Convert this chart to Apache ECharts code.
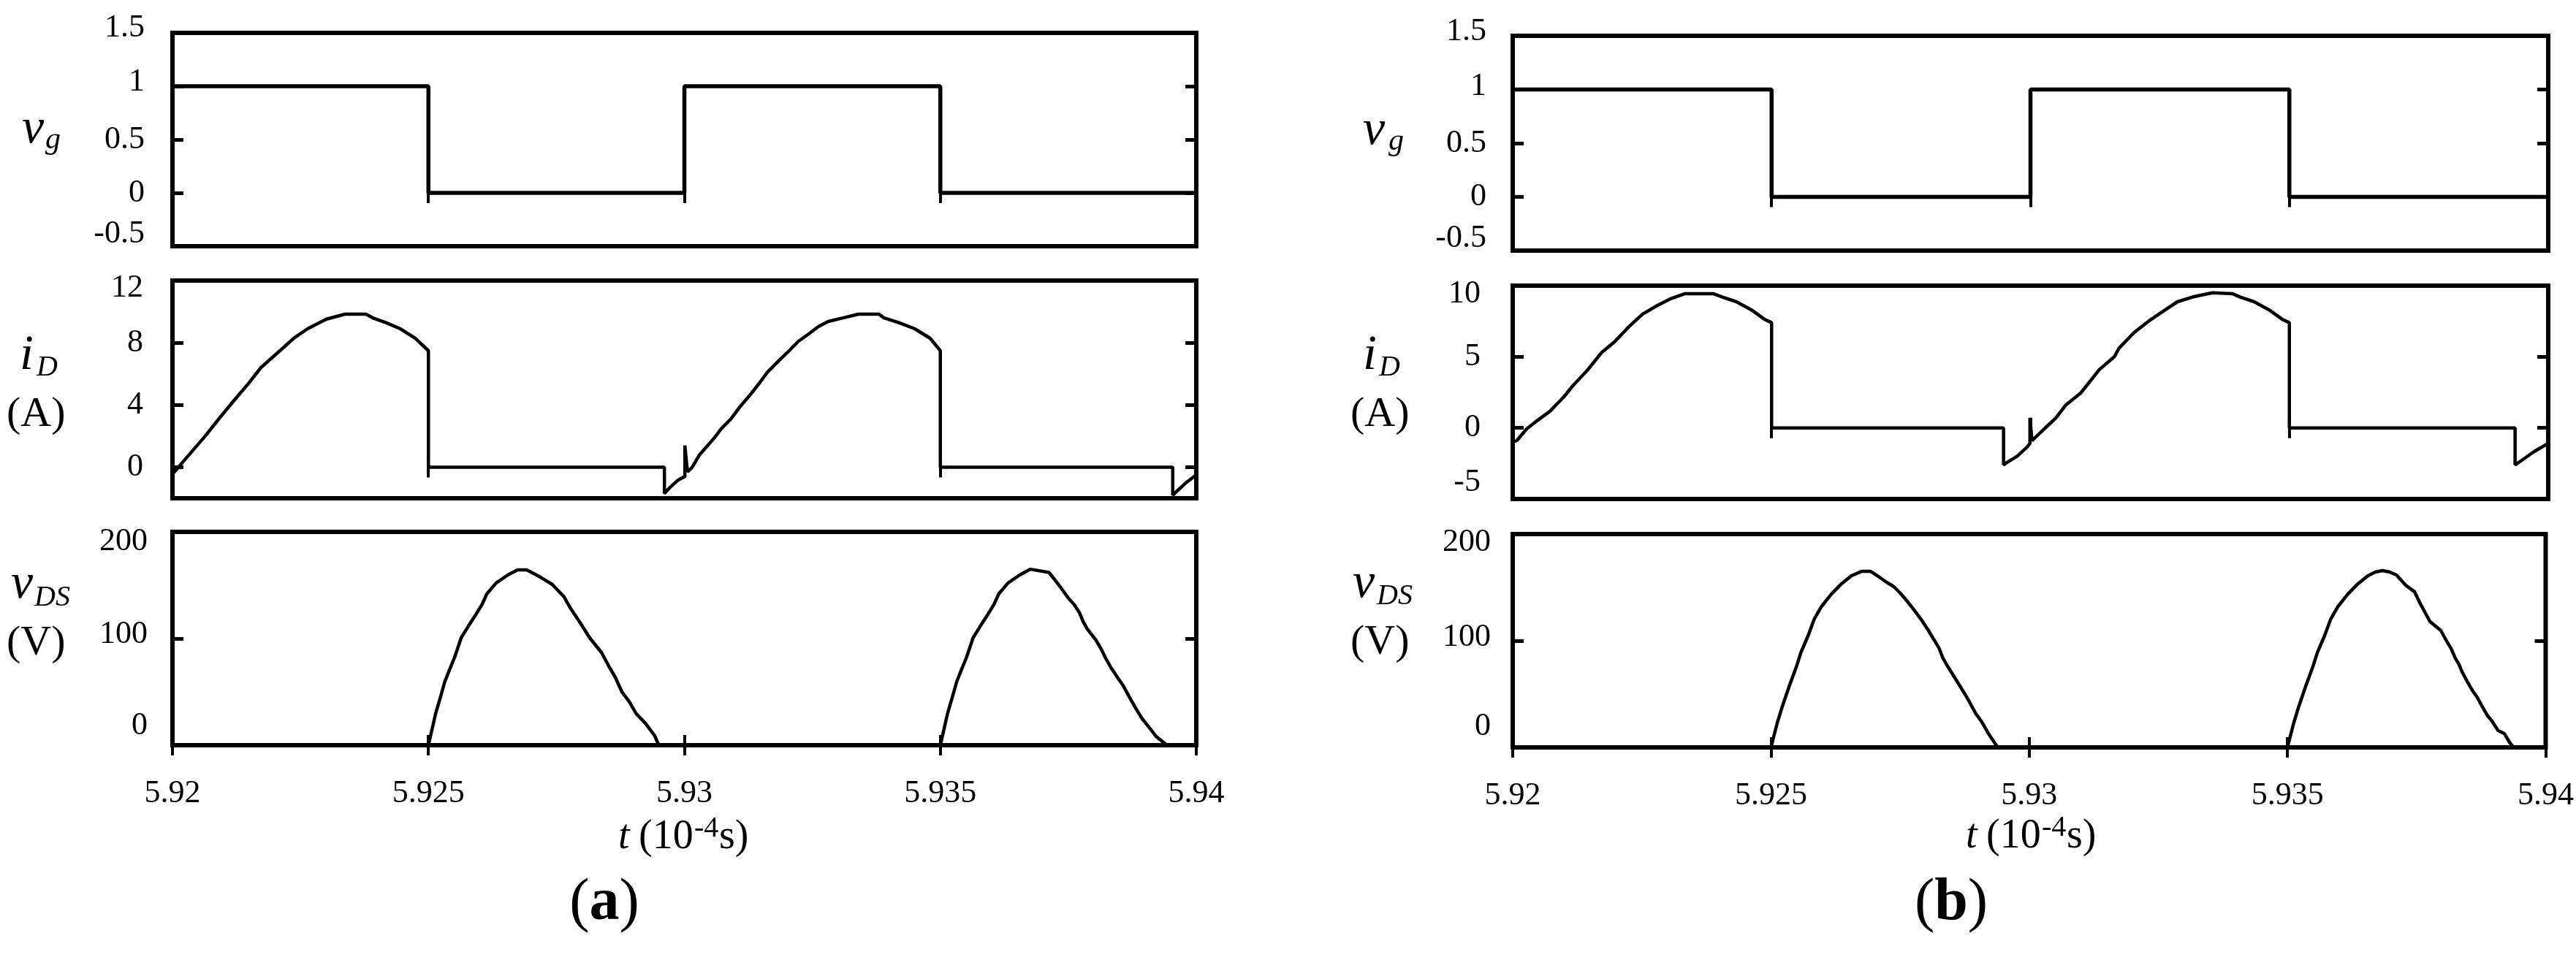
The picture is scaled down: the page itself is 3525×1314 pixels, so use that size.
<!DOCTYPE html>
<html>
<head>
<meta charset="utf-8">
<script src="https://cdn.jsdelivr.net/npm/echarts@6/dist/echarts.min.js"></script>
<style>
html, body { margin: 0; padding: 0; background: #fff; }
#main { width: 3525px; height: 1314px; }
</style>
</head>
<body>
<div id="main"></div>
<script>
// time axis, in 10^-4 s
var timeTicks = [5.92, 5.925, 5.93, 5.935, 5.94];
var timeTickLabels = ['5.92', '5.925', '5.93', '5.935', '5.94'];

var vgTicks = [-0.5, 0, 0.5, 1, 1.5];
var vgTickLabels = ['-0.5', '0', '0.5', '1', '1.5'];
var iDTicksA = [-2, 0, 4, 8, 12];
var iDTickLabelsA = ['-2', '0', '4', '8', '12'];
var iDTicksB = [-5, 0, 5, 10];
var iDTickLabelsB = ['-5', '0', '5', '10'];
var vDSTicks = [0, 100, 200];
var vDSTickLabels = ['0', '100', '200'];

// gate signal
var vgA = [[5.92, 1], [5.925, 1], [5.925, 0], [5.93, 0], [5.93, 1], [5.935, 1], [5.935, 0], [5.94, 0]];
var vgB = [[5.92, 1], [5.925, 1], [5.925, 0], [5.93, 0], [5.93, 1], [5.935, 1], [5.935, 0], [5.94, 0]];

// drain current (A)
var iDA = [
  [5.92, -0.45], [5.92027, 0.59], [5.92064, 2.0], [5.92091, 3.12], [5.92118, 4.2],
  [5.92146, 5.28], [5.92173, 6.41], [5.9221, 7.49], [5.92237, 8.29], [5.92264, 8.9],
  [5.923, 9.51], [5.92337, 9.84], [5.92378, 9.84], [5.92391, 9.6], [5.92418, 9.28],
  [5.92445, 8.9], [5.92474, 8.29], [5.925, 7.49], [5.925, 0], [5.92961, 0],
  [5.92961, -1.7], [5.92972, -1.3], [5.92988, -0.82], [5.93001, -0.6], [5.93001, 1.4],
  [5.93006, -0.3], [5.93015, -0.02], [5.93029, 0.77], [5.93058, 1.86], [5.93072, 2.47],
  [5.93091, 3.1], [5.93109, 3.9], [5.93129, 4.67], [5.93148, 5.47], [5.93162, 6.1],
  [5.93186, 6.9], [5.93205, 7.5], [5.93223, 8.1], [5.93243, 8.57], [5.93262, 9.04],
  [5.93281, 9.37], [5.9331, 9.6], [5.9334, 9.84], [5.9338, 9.84], [5.9339, 9.6],
  [5.9342, 9.28], [5.9345, 8.9], [5.9348, 8.29], [5.935, 7.49], [5.935, 0],
  [5.93954, 0], [5.93954, -1.8], [5.9398, -1.0], [5.94, -0.5]
];
var iDB = [
  [5.92, -1.0], [5.92008, -0.89], [5.92027, -0.07], [5.92045, 0.45], [5.92072, 1.17],
  [5.92099, 2.19], [5.92117, 3.0], [5.92144, 4.04], [5.92171, 5.27], [5.92198, 6.1],
  [5.92224, 7.1], [5.92251, 8.0], [5.92279, 8.6], [5.92306, 9.1], [5.92333, 9.44],
  [5.92387, 9.44], [5.92405, 9.2], [5.92432, 8.87], [5.92463, 8.25], [5.92486, 7.64],
  [5.925, 7.4], [5.925, 0], [5.92948, 0], [5.92948, -2.6], [5.92956, -2.4],
  [5.92974, -2.0], [5.92992, -1.4], [5.92999, -1.1], [5.92999, 0.7], [5.93003, -0.9],
  [5.9302, -0.3], [5.93049, 0.7], [5.93068, 1.6], [5.93097, 2.45], [5.93115, 3.27],
  [5.93133, 4.1], [5.93162, 5.0], [5.93171, 5.6], [5.932, 6.7], [5.93228, 7.5],
  [5.93256, 8.2], [5.93284, 8.87], [5.93313, 9.2], [5.93351, 9.5], [5.9339, 9.44],
  [5.93405, 9.2], [5.93432, 8.87], [5.93463, 8.25], [5.93486, 7.64], [5.935, 7.4],
  [5.935, 0], [5.93936, 0], [5.93936, -2.6], [5.93952, -2.2], [5.93973, -1.66],
  [5.9399, -1.3], [5.94, -1.1]
];

// drain-source voltage (V)
var vDSA = [
  [5.92, 0], [5.925, 0], [5.92514, 29.5], [5.92524, 45.9], [5.92532, 59.6],
  [5.92541, 70.5], [5.92551, 82.2], [5.92564, 100.7], [5.92578, 111.6], [5.92591, 121.2],
  [5.92605, 132.2], [5.92614, 141.8], [5.92632, 152], [5.92655, 159.6], [5.92674, 164.4],
  [5.92692, 164.4], [5.92719, 157.5], [5.92742, 150.7], [5.92765, 139], [5.92778, 128],
  [5.92797, 114.4], [5.92815, 100.7], [5.92838, 87], [5.92851, 75.3], [5.92865, 63.7],
  [5.92878, 50], [5.92892, 41], [5.92906, 29.5], [5.92924, 20.5], [5.92942, 8.9],
  [5.9295, 0], [5.935, 0], [5.93514, 29.5], [5.93524, 45.9], [5.93532, 59.6],
  [5.93541, 70.5], [5.93551, 82.2], [5.93564, 100.7], [5.93578, 111.6], [5.93591, 121.2],
  [5.93605, 132.2], [5.93614, 141.8], [5.93632, 152], [5.93655, 159.6], [5.93676, 165],
  [5.93712, 162], [5.93723, 155.5], [5.93737, 146.6], [5.9375, 138], [5.93762, 131.5],
  [5.93772, 124], [5.93779, 115.8], [5.93787, 109], [5.93804, 98.6], [5.93814, 90.4],
  [5.93823, 81.5], [5.93833, 73], [5.93844, 65], [5.93857, 56], [5.93866, 48],
  [5.9388, 36], [5.93894, 25], [5.93909, 16], [5.93922, 8], [5.93943, 0], [5.94, 0]
];
var vDSB = [
  [5.92, 0], [5.925, 0], [5.92512, 22.6], [5.92522, 38.4], [5.92535, 56.8],
  [5.92549, 75.3], [5.92558, 89], [5.92572, 104.8], [5.92584, 120.5], [5.92598, 132.2],
  [5.92617, 143.8], [5.92635, 152.7], [5.92656, 161], [5.92675, 165], [5.92693, 165],
  [5.9271, 159.6], [5.92724, 154.8], [5.92738, 150.7], [5.92752, 143.8], [5.92765, 136.3],
  [5.92776, 129.5], [5.9279, 120.5], [5.92805, 109.6], [5.92816, 100.7], [5.92826, 92.5],
  [5.92833, 83.6], [5.92843, 75.3], [5.92851, 69.2], [5.92865, 58.2], [5.92878, 48],
  [5.92886, 41.1], [5.92896, 32.2], [5.92908, 24], [5.92922, 12.3], [5.92939, 0],
  [5.935, 0], [5.93512, 22.6], [5.93522, 38.4], [5.93535, 56.8], [5.93549, 75.3],
  [5.93558, 89], [5.93572, 104.8], [5.93584, 120.5], [5.93598, 132.2], [5.93617, 143.8],
  [5.93635, 152.7], [5.93656, 161], [5.9367, 164.4], [5.93684, 165.8], [5.93698, 164.4],
  [5.93711, 161.6], [5.93729, 152], [5.93746, 146], [5.93757, 135], [5.93767, 126],
  [5.93776, 118], [5.93797, 109.6], [5.93807, 100.7], [5.93817, 92.5], [5.93825, 83.6],
  [5.93832, 78], [5.93839, 70], [5.93849, 61], [5.93859, 52.7], [5.93867, 47.3],
  [5.93877, 38.4], [5.93887, 30], [5.93896, 24.7], [5.93908, 15.8], [5.9392, 13],
  [5.9393, 4.8], [5.93938, 0], [5.94, 0]
];

var SERIF = '"Liberation Serif", "Times New Roman", serif';

// nudge (px, + = down) of the end tick labels, as in the source figure
var panels = [
  { grid: { left: 236, top: 45, width: 1401, height: 292 }, min: -0.5, max: 1.5, ticks: vgTicks, labels: vgTickLabels, data: vgA, lw: 5.5, xLabels: false, margin: 38, nudge: [-17, 0, 0, -6, -7] },
  { grid: { left: 236, top: 384, width: 1401, height: 298 }, min: -2, max: 12, ticks: iDTicksA, labels: iDTickLabelsA, data: iDA, lw: 4.5, xLabels: false, margin: 40, nudge: [0, 0, 0, 0, 10] },
  { grid: { left: 236, top: 728, width: 1401, height: 292 }, min: 0, max: 200, ticks: vDSTicks, labels: vDSTickLabels, data: vDSA, lw: 4.5, xLabels: true, margin: 34, nudge: [-27, -6, 13] },
  { grid: { left: 2070, top: 49, width: 1417, height: 294 }, min: -0.5, max: 1.5, ticks: vgTicks, labels: vgTickLabels, data: vgB, lw: 5.5, xLabels: false, margin: 36, nudge: [-17, 0, 0, -4, -6] },
  { grid: { left: 2070, top: 391, width: 1417, height: 292 }, min: -5, max: 10, ticks: iDTicksB, labels: iDTickLabelsB, data: iDB, lw: 4.5, xLabels: false, margin: 44, nudge: [-23, 0, 0, 11] },
  { grid: { left: 2070, top: 731, width: 1417, height: 292 }, min: 0, max: 200, ticks: vDSTicks, labels: vDSTickLabels, data: vDSB, lw: 4.5, xLabels: true, margin: 30, nudge: [-29, -5, 11] }
];

function indexOf(list, v) {
  for (var i = 0; i < list.length; i++) {
    if (Math.abs(list[i] - v) < 1e-9) return i;
  }
  return -1;
}

var grids = [], xAxes = [], yAxes = [], series = [];
panels.forEach(function (p, k) {
  grids.push({
    left: p.grid.left, top: p.grid.top, width: p.grid.width, height: p.grid.height,
    show: true, borderColor: '#000', borderWidth: 6, backgroundColor: 'transparent'
  });
  ['bottom', 'top'].forEach(function (pos) {
    xAxes.push({
      type: 'value', gridIndex: k, position: pos, min: 5.92, max: 5.94,
      axisLine: { show: false },
      axisTick: { show: true, inside: true, length: 14, customValues: timeTicks, lineStyle: { color: '#000', width: 4 } },
      axisLabel: {
        show: pos === 'bottom' && p.xLabels, customValues: timeTicks, margin: 44,
        formatter: function (v) { var i = indexOf(timeTicks, v); return i < 0 ? '' : timeTickLabels[i]; },
        fontFamily: SERIF, fontSize: 44, color: '#000'
      },
      splitLine: { show: false }
    });
  });
  var rich = {};
  p.nudge.forEach(function (d, i) {
    rich['n' + i] = {
      fontFamily: SERIF, fontSize: 44, color: '#000',
      padding: d < 0 ? [0, 0, -2 * d, 0] : [2 * d, 0, 0, 0]
    };
  });
  ['left', 'right'].forEach(function (pos) {
    yAxes.push({
      type: 'value', gridIndex: k, position: pos, min: p.min, max: p.max,
      axisLine: { show: false },
      axisTick: { show: true, inside: true, length: 15, customValues: p.ticks, lineStyle: { color: '#000', width: 5 } },
      axisLabel: {
        show: pos === 'left', customValues: p.ticks, margin: p.margin,
        formatter: function (v) {
          var i = indexOf(p.ticks, v);
          return i < 0 ? '' : '{n' + i + '|' + p.labels[i] + '}';
        },
        rich: rich,
        fontFamily: SERIF, fontSize: 44, color: '#000'
      },
      splitLine: { show: false }
    });
  });
  series.push({
    type: 'line', xAxisIndex: k * 2, yAxisIndex: k * 2, data: p.data,
    showSymbol: false, symbol: 'none', clip: true,
    lineStyle: { color: '#000', width: p.lw }
  });
});

function txt(s, x, y, size, style, weight, align) {
  return {
    type: 'text', silent: true,
    style: {
      text: s, x: x, y: y, fill: '#000',
      font: (style || 'normal') + ' ' + (weight || 'normal') + ' ' + size + 'px ' + SERIF,
      align: align || 'left', verticalAlign: 'middle'
    }
  };
}

var graphics = [
  // panel (a) axis names
  txt('v', 30, 177, 68, 'italic'), txt('g', 62, 192, 42, 'italic'),
  txt('i', 27, 487, 68, 'italic'), txt('D', 50, 503, 40, 'italic'),
  txt('(A)', 9, 568, 58),
  txt('v', 15, 800, 68, 'italic'), txt('DS', 47, 818, 40, 'italic'),
  txt('(V)', 9, 881, 58),
  // panel (b) axis names
  txt('v', 1865, 179, 68, 'italic'), txt('g', 1900, 194, 42, 'italic'),
  txt('i', 1865, 487, 68, 'italic'), txt('D', 1887, 503, 40, 'italic'),
  txt('(A)', 1848, 568, 58),
  txt('v', 1851, 799, 68, 'italic'), txt('DS', 1884, 816, 40, 'italic'),
  txt('(V)', 1848, 880, 58),
  // time axis titles
  txt('t', 846, 1146, 56, 'italic'), txt('(10', 874, 1146, 56), txt('-4', 950, 1134, 40), txt('s)', 984, 1146, 56),
  txt('t', 2690, 1145, 56, 'italic'), txt('(10', 2718, 1145, 56), txt('-4', 2794, 1133, 40), txt('s)', 2828, 1145, 56),
  // sub-figure captions
  {
    type: 'text', silent: true,
    style: {
      text: '{p|(}{b|a}{p|)}', x: 827, y: 1237, align: 'center', verticalAlign: 'middle',
      rich: { p: { font: 'normal 82px ' + SERIF, fill: '#000' }, b: { font: 'bold 82px ' + SERIF, fill: '#000' } }
    }
  },
  {
    type: 'text', silent: true,
    style: {
      text: '{p|(}{b|b}{p|)}', x: 2670, y: 1237, align: 'center', verticalAlign: 'middle',
      rich: { p: { font: 'normal 82px ' + SERIF, fill: '#000' }, b: { font: 'bold 82px ' + SERIF, fill: '#000' } }
    }
  }
];

var chart = echarts.init(document.getElementById('main'));
var option = {
  backgroundColor: '#fff',
  animation: false,
  grid: grids,
  xAxis: xAxes,
  yAxis: yAxes,
  series: series,
  graphic: graphics
};
chart.setOption(option);
</script>
</body>
</html>
